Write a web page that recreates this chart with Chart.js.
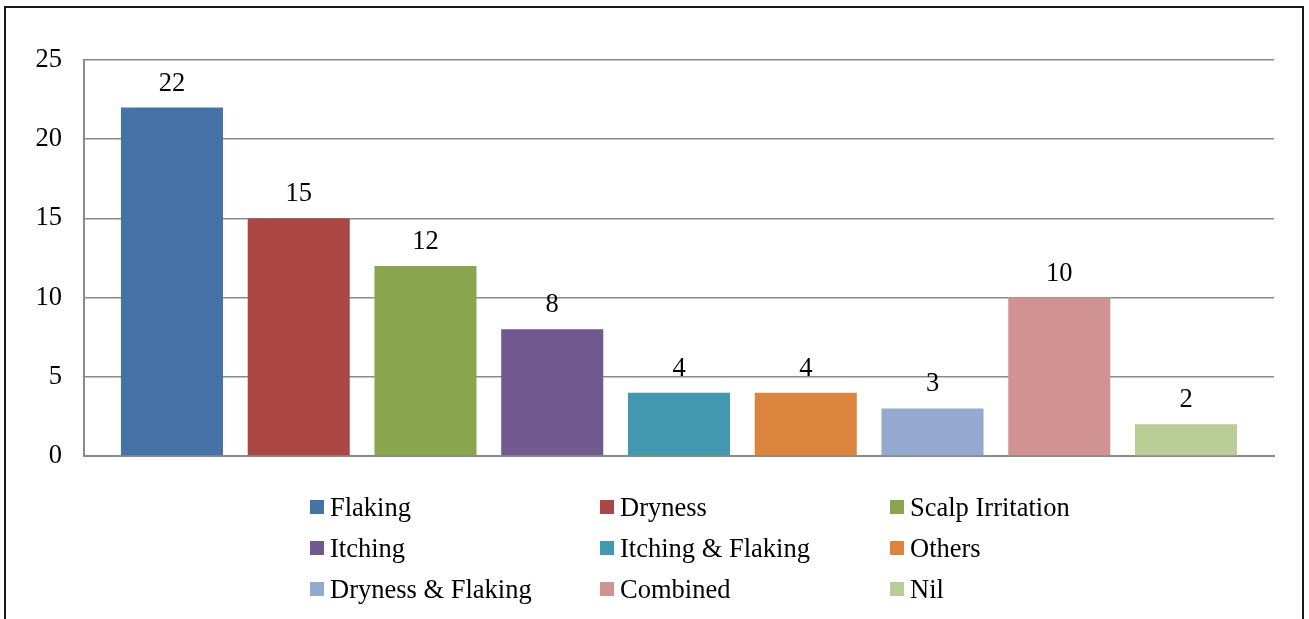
<!DOCTYPE html>
<html>
<head>
<meta charset="utf-8">
<script src="https://cdn.jsdelivr.net/npm/chart.js@4/dist/chart.umd.min.js"></script>
<style>
  html, body { margin: 0; padding: 0; background: #fff; }
  body { width: 1309px; height: 619px; position: relative; overflow: hidden; font-family: "Liberation Serif", "Times New Roman", serif; }
  #frame { position: absolute; left: 4px; top: 6px; width: 1300px; height: 640px; border: 2px solid #1a1a1a; box-sizing: border-box; }
  #wrap { position: absolute; left: 0; top: 0; width: 1309px; height: 619px; }
  .lg { position: absolute; display: flex; align-items: center; font-size: 26.5px; color: #000; white-space: nowrap; height: 30px; }
  .lg span.box { display: inline-block; width: 14px; height: 14px; margin-right: 6px; }
</style>
</head>
<body>
<div id="frame"></div>
<div id="wrap"><canvas id="c" width="1309" height="619"></canvas></div>
<div id="legend"></div>
<script>
const categories = ["Flaking", "Dryness", "Scalp Irritation", "Itching", "Itching & Flaking", "Others", "Dryness & Flaking", "Combined", "Nil"];
const values = [22, 15, 12, 8, 4, 4, 3, 10, 2];
const colors = ["#4572A7", "#AA4643", "#89A54E", "#71588F", "#4198AF", "#DB843D", "#93A9CF", "#D19392", "#B9CD96"];
const yTicks = [0, 5, 10, 15, 20, 25];

const FONT = "Liberation Serif";
const FS = 26.5;

const labelPlugin = {
  id: "barLabels",
  afterDatasetsDraw(chart) {
    const ctx = chart.ctx;
    const meta = chart.getDatasetMeta(0);
    ctx.save();
    ctx.font = FS + "px '" + FONT + "'";
    ctx.fillStyle = "#000";
    ctx.textAlign = "center";
    ctx.textBaseline = "alphabetic";
    meta.data.forEach((bar, i) => {
      ctx.fillText(String(values[i]), bar.x, bar.y - 17);
    });
    ctx.restore();
  }
};

new Chart(document.getElementById("c"), {
  type: "bar",
  data: {
    datasets: [{
      label: "Count",
      data: values.map((v, i) => ({ x: i, y: v })),
      backgroundColor: colors,
      borderWidth: 0
    }]
  },
  options: {
    responsive: false,
    animation: false,
    devicePixelRatio: 1,
    layout: { padding: { left: 0, top: 60, right: 35, bottom: 163 } },
    plugins: { legend: { display: false }, tooltip: { enabled: false } },
    datasets: { bar: { categoryPercentage: 1.0, barPercentage: 0.805 } },
    scales: {
      x: {
        type: "linear",
        offset: false,
        min: -0.694,
        max: categories.length - 1 + 0.694,
        afterBuildTicks(scale) { scale.ticks = categories.map((c, i) => ({ value: i })); },
        ticks: { display: false },
        grid: { display: false, drawTicks: false },
        border: { display: true, color: "#8a8a8a", width: 2 }
      },
      y: {
        min: 0, max: 25,
        afterBuildTicks(scale) { scale.ticks = yTicks.map(v => ({ value: v })); },
        afterFit(scale) { scale.width = 84; },
        ticks: { padding: 22, color: "#000", font: { family: FONT, size: FS } },
        grid: { color: "#8a8a8a", lineWidth: 1.5, drawTicks: false },
        border: { display: true, color: "#8a8a8a", width: 2 }
      }
    }
  },
  plugins: [labelPlugin]
});

const legend = document.getElementById("legend");
const colX = [310, 600, 890];
const rowY = [492, 533, 574];
categories.forEach((name, i) => {
  const d = document.createElement("div");
  d.className = "lg";
  d.style.left = colX[i % 3] + "px";
  d.style.top = rowY[Math.floor(i / 3)] + "px";
  const b = document.createElement("span");
  b.className = "box";
  b.style.background = colors[i];
  const t = document.createElement("span");
  t.textContent = name;
  d.appendChild(b); d.appendChild(t);
  legend.appendChild(d);
});
</script>
</body>
</html>
